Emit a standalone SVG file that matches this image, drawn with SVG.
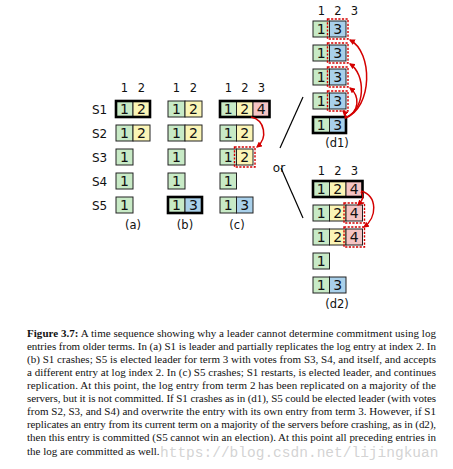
<svg xmlns="http://www.w3.org/2000/svg" width="453" height="469" viewBox="0 0 453 469">
<defs>
<style>
.c{stroke:#222;stroke-width:1}
.L{fill:none;stroke:#000;stroke-width:2.6}
.g{fill:#c8eac6}.y{fill:#fbf5b6}.b{fill:#a9d0ea}.p{fill:#f5c4c4}
.t{font-family:"DejaVu Sans",sans-serif;font-size:14px;fill:#111;text-anchor:middle}
.h{font-family:"DejaVu Sans",sans-serif;font-size:11.5px;fill:#111;text-anchor:middle}
.s{font-family:"DejaVu Sans",sans-serif;font-size:12px;fill:#111}
.d{fill:none;stroke:#d40000;stroke-width:1.4;stroke-dasharray:2.2 1.4}
.a{fill:none;stroke:#d40000;stroke-width:1.5;marker-end:url(#ah)}
.cap{font-family:"Liberation Serif",serif;font-size:11px;fill:#111}
</style>
<marker id="ah" viewBox="0 0 10 10" refX="8" refY="5" markerWidth="6" markerHeight="6" orient="auto" markerUnits="userSpaceOnUse">
<path d="M0,0 L10,5 L0,10 Z" fill="#d40000"/>
</marker>
</defs>
<rect width="453" height="469" fill="#fff"/>

<g id="rowlabels" class="s">
<text x="92" y="114">S1</text>
<text x="92" y="138">S2</text>
<text x="92" y="162">S3</text>
<text x="92" y="186">S4</text>
<text x="92" y="210">S5</text>
</g>

<g id="col-a">
<text class="h" x="124.5" y="92">1</text><text class="h" x="141.5" y="92">2</text>
<rect class="c g" x="116" y="101" width="17" height="16"/><rect class="c y" x="133" y="101" width="17" height="16"/><rect class="L" x="116" y="101" width="34" height="16"/>
<text class="t" x="124.5" y="114">1</text><text class="t" x="141.5" y="114">2</text>
<rect class="c g" x="116" y="125" width="17" height="16"/><rect class="c y" x="133" y="125" width="17" height="16"/>
<text class="t" x="124.5" y="138">1</text><text class="t" x="141.5" y="138">2</text>
<rect class="c g" x="116" y="149" width="17" height="16"/><text class="t" x="124.5" y="162">1</text>
<rect class="c g" x="116" y="173" width="17" height="16"/><text class="t" x="124.5" y="186">1</text>
<rect class="c g" x="116" y="197" width="17" height="16"/><text class="t" x="124.5" y="210">1</text>
<text class="h" x="133" y="229">(a)</text>
</g>

<g id="col-b">
<text class="h" x="176.5" y="92">1</text><text class="h" x="193.5" y="92">2</text>
<rect class="c g" x="168" y="101" width="17" height="16"/><rect class="c y" x="185" y="101" width="17" height="16"/>
<text class="t" x="176.5" y="114">1</text><text class="t" x="193.5" y="114">2</text>
<rect class="c g" x="168" y="125" width="17" height="16"/><rect class="c y" x="185" y="125" width="17" height="16"/>
<text class="t" x="176.5" y="138">1</text><text class="t" x="193.5" y="138">2</text>
<rect class="c g" x="168" y="149" width="17" height="16"/><text class="t" x="176.5" y="162">1</text>
<rect class="c g" x="168" y="173" width="17" height="16"/><text class="t" x="176.5" y="186">1</text>
<rect class="c g" x="168" y="197" width="17" height="16"/><rect class="c b" x="185" y="197" width="17" height="16"/><rect class="L" x="168" y="197" width="34" height="16"/>
<text class="t" x="176.5" y="210">1</text><text class="t" x="193.5" y="210">3</text>
<text class="h" x="185" y="229">(b)</text>
</g>

<g id="col-c">
<text class="h" x="228.5" y="92">1</text><text class="h" x="245" y="92">2</text><text class="h" x="261.5" y="92">3</text>
<rect class="c g" x="220" y="101" width="16.5" height="16"/><rect class="c y" x="236.5" y="101" width="16.5" height="16"/><rect class="c p" x="253" y="101" width="16.5" height="16"/><rect class="L" x="220" y="101" width="49.5" height="16"/>
<text class="t" x="228.3" y="114">1</text><text class="t" x="244.8" y="114">2</text><text class="t" x="261.3" y="114">4</text>
<rect class="c g" x="220" y="125" width="16.5" height="16"/><rect class="c y" x="236.5" y="125" width="16.5" height="16"/>
<text class="t" x="228.3" y="138">1</text><text class="t" x="244.8" y="138">2</text>
<rect class="c g" x="220" y="149" width="16.5" height="16"/><rect class="c y" x="236.5" y="149" width="16.5" height="16"/>
<text class="t" x="228.3" y="162">1</text><text class="t" x="244.8" y="162">2</text>
<rect class="d" x="234.5" y="147" width="20.5" height="20"/>
<rect class="c g" x="220" y="173" width="16.5" height="16"/><text class="t" x="228.3" y="186">1</text>
<rect class="c g" x="220" y="197" width="16.5" height="16"/><rect class="c b" x="236.5" y="197" width="16.5" height="16"/>
<text class="t" x="228.3" y="210">1</text><text class="t" x="244.8" y="210">3</text>
<text class="h" x="237" y="229">(c)</text>
</g>

<g id="or">
<text class="s" x="279" y="172" text-anchor="middle">or</text>
</g>

<g id="col-d1">
<text class="h" x="321.3" y="15">1</text><text class="h" x="337.8" y="15">2</text><text class="h" x="354.3" y="15">3</text>
<rect class="c g" x="313" y="21" width="16.5" height="16"/><rect class="c b" x="329.5" y="21" width="16.5" height="16"/>
<text class="t" x="321.3" y="34">1</text><text class="t" x="337.8" y="34">3</text>
<rect class="d" x="327.5" y="19" width="20.5" height="20"/>
<rect class="c g" x="313" y="45" width="16.5" height="16"/><rect class="c b" x="329.5" y="45" width="16.5" height="16"/>
<text class="t" x="321.3" y="58">1</text><text class="t" x="337.8" y="58">3</text>
<rect class="d" x="327.5" y="43" width="20.5" height="20"/>
<rect class="c g" x="313" y="69" width="16.5" height="16"/><rect class="c b" x="329.5" y="69" width="16.5" height="16"/>
<text class="t" x="321.3" y="82">1</text><text class="t" x="337.8" y="82">3</text>
<rect class="d" x="327.5" y="67" width="20.5" height="20"/>
<rect class="c g" x="313" y="93" width="16.5" height="16"/><rect class="c b" x="329.5" y="93" width="16.5" height="16"/>
<text class="t" x="321.3" y="106">1</text><text class="t" x="337.8" y="106">3</text>
<rect class="d" x="327.5" y="91" width="20.5" height="20"/>
<rect class="c g" x="313" y="117" width="16.5" height="16"/><rect class="c b" x="329.5" y="117" width="16.5" height="16"/><rect class="L" x="313" y="117" width="33" height="16"/>
<text class="t" x="321.3" y="130">1</text><text class="t" x="337.8" y="130">3</text>
<text class="h" x="337" y="147">(d1)</text>
</g>

<g id="col-d2">
<text class="h" x="321.3" y="175">1</text><text class="h" x="337.8" y="175">2</text><text class="h" x="354.3" y="175">3</text>
<rect class="c g" x="313" y="181" width="16.5" height="16"/><rect class="c y" x="329.5" y="181" width="16.5" height="16"/><rect class="c p" x="346" y="181" width="16.5" height="16"/><rect class="L" x="313" y="181" width="49.5" height="16"/>
<text class="t" x="321.3" y="194">1</text><text class="t" x="337.8" y="194">2</text><text class="t" x="354.3" y="194">4</text>
<rect class="c g" x="313" y="205" width="16.5" height="16"/><rect class="c y" x="329.5" y="205" width="16.5" height="16"/><rect class="c p" x="346" y="205" width="16.5" height="16"/>
<text class="t" x="321.3" y="218">1</text><text class="t" x="337.8" y="218">2</text><text class="t" x="354.3" y="218">4</text>
<rect class="d" x="344" y="203" width="20.5" height="20"/>
<rect class="c g" x="313" y="229" width="16.5" height="16"/><rect class="c y" x="329.5" y="229" width="16.5" height="16"/><rect class="c p" x="346" y="229" width="16.5" height="16"/>
<text class="t" x="321.3" y="242">1</text><text class="t" x="337.8" y="242">2</text><text class="t" x="354.3" y="242">4</text>
<rect class="d" x="344" y="227" width="20.5" height="20"/>
<rect class="c g" x="313" y="253" width="16.5" height="16"/><text class="t" x="321.3" y="266">1</text>
<rect class="c g" x="313" y="277" width="16.5" height="16"/><rect class="c b" x="329.5" y="277" width="16.5" height="16"/>
<text class="t" x="321.3" y="290">1</text><text class="t" x="337.8" y="290">3</text>
<text class="h" x="337" y="308">(d2)</text>
</g>

<g id="connectors">
<line x1="280" y1="148" x2="303" y2="97" stroke="#000" stroke-width="1.2"/>
<line x1="281" y1="168" x2="303" y2="218" stroke="#000" stroke-width="1.2"/>
<path class="a" d="M251,117 C265,120 268,138 257,147"/>
<path class="a" d="M345,118 C373,108 373,52 350,40"/>
<path class="a" d="M345,118 C366,110 366,74 350,64"/>
<path class="a" d="M345,118 C360,112 360,96 350,88"/>
<path class="a" d="M345,118 C346,116 345,113 343,111"/>
<path class="a" d="M361,192 C365,196 362,201 358,205"/>
<path class="a" d="M361,191 C378,196 377,218 364,227"/>
</g>

<g id="caption" class="cap">
<text x="27" y="337" textLength="409" lengthAdjust="spacing"><tspan font-weight="bold">Figure 3.7:</tspan> A time sequence showing why a leader cannot determine commitment using log</text>
<text x="27" y="350" textLength="409" lengthAdjust="spacing">entries from older terms. In (a) S1 is leader and partially replicates the log entry at index 2. In</text>
<text x="27" y="363" textLength="409" lengthAdjust="spacing">(b) S1 crashes; S5 is elected leader for term 3 with votes from S3, S4, and itself, and accepts</text>
<text x="27" y="376" textLength="409" lengthAdjust="spacing">a different entry at log index 2. In (c) S5 crashes; S1 restarts, is elected leader, and continues</text>
<text x="27" y="389" textLength="409" lengthAdjust="spacing">replication. At this point, the log entry from term 2 has been replicated on a majority of the</text>
<text x="27" y="402" textLength="409" lengthAdjust="spacing">servers, but it is not committed. If S1 crashes as in (d1), S5 could be elected leader (with votes</text>
<text x="27" y="415" textLength="409" lengthAdjust="spacing">from S2, S3, and S4) and overwrite the entry with its own entry from term 3. However, if S1</text>
<text x="27" y="428" textLength="409" lengthAdjust="spacing">replicates an entry from its current term on a majority of the servers before crashing, as in (d2),</text>
<text x="27" y="441" textLength="409" lengthAdjust="spacing">then this entry is committed (S5 cannot win an election). At this point all preceding entries in</text>
<text x="27" y="455">the log are committed as well.</text>
</g>

<g id="watermark">
<text x="160" y="457" font-family="Liberation Mono, monospace" font-size="14.5" fill="#c8c8c8" fill-opacity="0.8">https://blog.csdn.net/lijingkuan</text>
</g>
</svg>
